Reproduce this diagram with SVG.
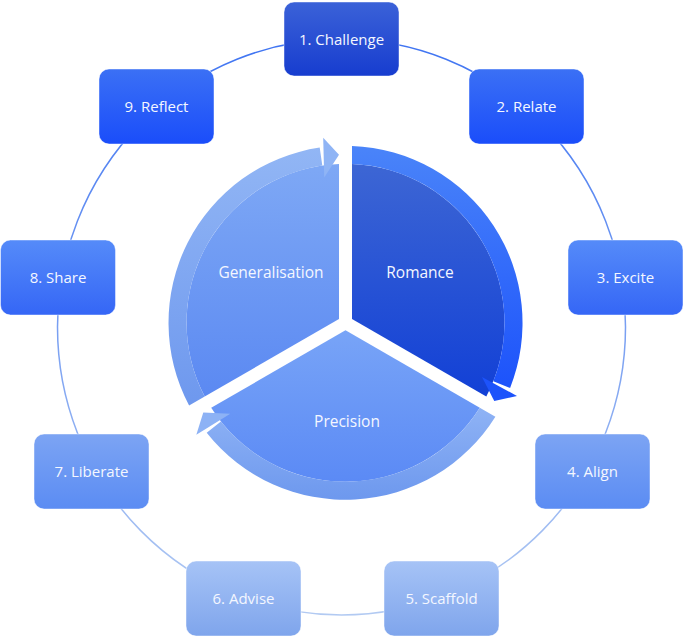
<svg xmlns="http://www.w3.org/2000/svg" width="685" height="636" viewBox="0 0 685 636">
<style>
.box{stroke:#ffffff;stroke-opacity:0.45;stroke-width:1}
.lbl{font-family:"Open Sans","Liberation Sans",sans-serif;font-size:15px;fill:#f4f7ff;text-anchor:middle}
.clbl{font-family:"Open Sans","Liberation Sans",sans-serif;font-size:15.5px;fill:#f4f7ff;text-anchor:middle}
</style>
<defs>
<linearGradient id="g1" x1="0" y1="0" x2="0" y2="1"><stop offset="0" stop-color="#3b62d8"/><stop offset="1" stop-color="#173dcf"/></linearGradient>
<linearGradient id="g2" x1="0" y1="0" x2="0" y2="1"><stop offset="0" stop-color="#3b70f5"/><stop offset="1" stop-color="#1a4dfa"/></linearGradient>
<linearGradient id="g3" x1="0" y1="0" x2="0" y2="1"><stop offset="0" stop-color="#558bf9"/><stop offset="1" stop-color="#3566f6"/></linearGradient>
<linearGradient id="g4" x1="0" y1="0" x2="0" y2="1"><stop offset="0" stop-color="#7ca4f3"/><stop offset="1" stop-color="#5b8cf3"/></linearGradient>
<linearGradient id="g5" x1="0" y1="0" x2="0" y2="1"><stop offset="0" stop-color="#a6c3f6"/><stop offset="1" stop-color="#7fa5ec"/></linearGradient>
<linearGradient id="ring" gradientUnits="userSpaceOnUse" x1="0" y1="39" x2="0" y2="615"><stop offset="0" stop-color="#3f74f2"/><stop offset="1" stop-color="#b2caf2"/></linearGradient>
<linearGradient id="romBand" gradientUnits="userSpaceOnUse" x1="0" y1="146" x2="0" y2="402"><stop offset="0" stop-color="#4a84f9"/><stop offset="1" stop-color="#1a50fb"/></linearGradient>
<linearGradient id="romFill" gradientUnits="userSpaceOnUse" x1="0" y1="164" x2="0" y2="397"><stop offset="0" stop-color="#3d66d4"/><stop offset="1" stop-color="#1240d6"/></linearGradient>
<linearGradient id="genBand" gradientUnits="userSpaceOnUse" x1="0" y1="138" x2="0" y2="406"><stop offset="0" stop-color="#93b7f5"/><stop offset="1" stop-color="#6e98ee"/></linearGradient>
<linearGradient id="genFill" gradientUnits="userSpaceOnUse" x1="0" y1="164" x2="0" y2="397"><stop offset="0" stop-color="#7ea8f5"/><stop offset="1" stop-color="#5b89f2"/></linearGradient>
<linearGradient id="preBand" gradientUnits="userSpaceOnUse" x1="0" y1="407" x2="0" y2="500"><stop offset="0" stop-color="#8fb3f5"/><stop offset="1" stop-color="#6d98ee"/></linearGradient>
<linearGradient id="preFill" gradientUnits="userSpaceOnUse" x1="0" y1="330" x2="0" y2="482"><stop offset="0" stop-color="#78a4f7"/><stop offset="1" stop-color="#5b8af5"/></linearGradient>
</defs>
<rect width="685" height="636" fill="#ffffff"/>
<g id="connectors">
<ellipse cx="341.5" cy="327" rx="284" ry="288" fill="none" stroke="url(#ring)" stroke-width="1.5"/>
</g>
<g id="romance">
<path d="M352,319 L352,163.9 A159,159 0 0 1 486.3,396.55 Z" fill="url(#romFill)"/>
<path d="M352,145.9 A177,177 0 0 1 510.1,387.95 L493.3,381.25 A159,159 0 0 0 352,163.9 Z" fill="url(#romBand)"/>
<path d="M482,377 L517,396 L494.25,401.1 Z" fill="#1d53fb"/>
<text class="clbl" x="420" y="277.5">Romance</text>
</g>
<g id="precision">
<path d="M345.5,330.25 L479.8,407.8 A159,159 0 0 1 211.2,407.8 Z" fill="url(#preFill)"/>
<path d="M495.4,416.8 A177,177 0 0 1 206.7,432.7 L220.9,421.5 A159,159 0 0 0 479.8,407.8 Z" fill="url(#preBand)"/>
<path d="M230.3,413.85 L196.3,434.65 L203.3,412.4 Z" fill="#8db2f5"/>
<text class="clbl" x="347" y="426.5">Precision</text>
</g>
<g id="generalisation">
<path d="M339,319 L204.7,396.55 A159,159 0 0 1 339,163.9 Z" fill="url(#genFill)"/>
<path d="M189.1,405.55 A177,177 0 0 1 319.7,147.6 L322.3,165.5 A159,159 0 0 0 204.7,396.55 Z" fill="url(#genBand)"/>
<path d="M324.2,177.45 L323.2,137.65 L339,154.75 Z" fill="#8fb4f5"/>
<text class="clbl" x="271" y="277.5">Generalisation</text>
</g>
<g id="n1"><rect class="box" x="284" y="2" width="115" height="74" rx="10" fill="url(#g1)"/><text class="lbl" x="341.5" y="45">1. Challenge</text></g>
<g id="n2"><rect class="box" x="469" y="69" width="115" height="75" rx="10" fill="url(#g2)"/><text class="lbl" x="526.5" y="112">2. Relate</text></g>
<g id="n3"><rect class="box" x="568" y="240" width="115" height="75" rx="10" fill="url(#g3)"/><text class="lbl" x="625.5" y="283">3. Excite</text></g>
<g id="n4"><rect class="box" x="535" y="434" width="115" height="75" rx="10" fill="url(#g4)"/><text class="lbl" x="592.5" y="477">4. Align</text></g>
<g id="n5"><rect class="box" x="384" y="561" width="115" height="75" rx="10" fill="url(#g5)"/><text class="lbl" x="441.5" y="604">5. Scaffold</text></g>
<g id="n6"><rect class="box" x="186" y="561" width="115" height="75" rx="10" fill="url(#g5)"/><text class="lbl" x="243.5" y="604">6. Advise</text></g>
<g id="n7"><rect class="box" x="34" y="434" width="115" height="75" rx="10" fill="url(#g4)"/><text class="lbl" x="91.5" y="477">7. Liberate</text></g>
<g id="n8"><rect class="box" x="0.5" y="240" width="115" height="75" rx="10" fill="url(#g3)"/><text class="lbl" x="58" y="283">8. Share</text></g>
<g id="n9"><rect class="box" x="99" y="69" width="115" height="75" rx="10" fill="url(#g2)"/><text class="lbl" x="156.5" y="112">9. Reflect</text></g>
</svg>
